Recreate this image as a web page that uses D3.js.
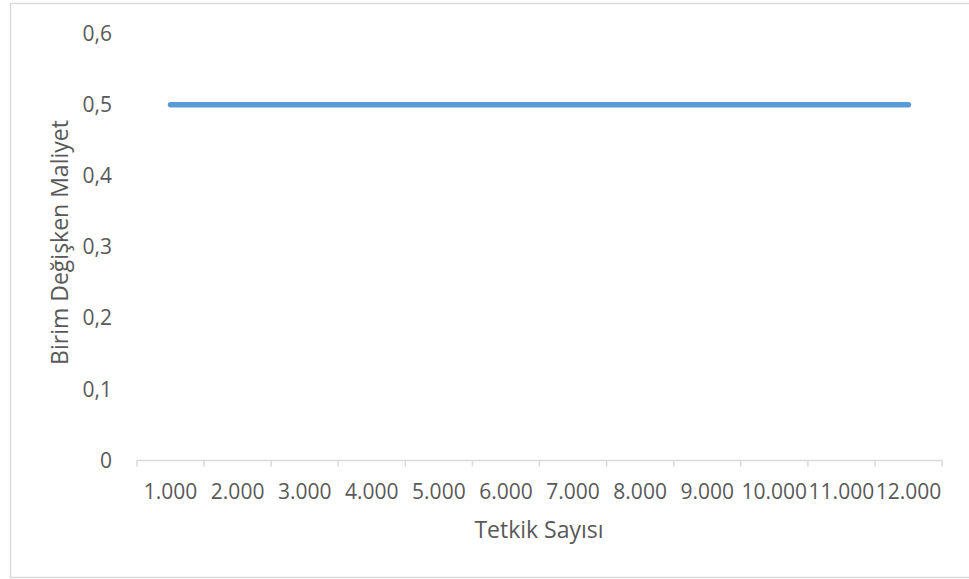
<!DOCTYPE html>
<html>
<head>
<meta charset="utf-8">
<script src="https://cdn.jsdelivr.net/npm/d3@7"></script>
<style>
  body { margin: 0; background: #fff; }
  text { font-family: "Open Sans", sans-serif; }
</style>
</head>
<body>
<div id="chart"></div>
<script>
// chart size
const width = 969;
const height = 579;
const margin = {left: 137, right: 27, top: 33.5, bottom: 118.5};

// data
const categories = ["1.000", "2.000", "3.000", "4.000", "5.000", "6.000",
                    "7.000", "8.000", "9.000", "10.000", "11.000", "12.000"];
const values = [0.5, 0.5, 0.5, 0.5, 0.5, 0.5, 0.5, 0.5, 0.5, 0.5, 0.5, 0.5];
const yTicks = [0, 0.1, 0.2, 0.3, 0.4, 0.5, 0.6];

const svg = d3.select("#chart")
  .append("svg")
  .attr("width", width)
  .attr("height", height);

// outer frame
svg.append("rect")
  .attr("x", 10.5).attr("y", 3.5)
  .attr("width", 960).attr("height", 574)
  .attr("fill", "#fff")
  .attr("stroke", "#d9d9d9")
  .attr("stroke-width", 1.5);

// scales
const xScale = d3.scaleBand()
  .domain(categories)
  .range([margin.left, width - margin.right]);

const yScale = d3.scaleLinear()
  .domain([0, 0.6])
  .range([height - margin.bottom, margin.top]);

// y axis labels only (no line)
svg.append("g")
  .attr("transform", `translate(${margin.left - 22},0)`)
  .call(d3.axisLeft(yScale).tickValues(yTicks).tickSize(0)
    .tickFormat(d => d === 0 ? "0" : d3.format(".1f")(d).replace(".", ",")))
  .call(g => g.select(".domain").remove())
  .call(g => g.selectAll("text")
    .attr("font-size", "21px")
    .attr("font-family", "Open Sans, sans-serif")
    .attr("fill", "#595959"));

// x axis: line with ticks between categories
const xAxisY = height - margin.bottom;
const xAxis = svg.append("g");
xAxis.append("line")
  .attr("x1", xScale.range()[0]).attr("x2", xScale.range()[1])
  .attr("y1", xAxisY).attr("y2", xAxisY)
  .attr("stroke", "#d9d9d9").attr("stroke-width", 1.5);

const boundaries = categories.map(c => xScale(c)).concat([xScale.range()[1]]);
xAxis.selectAll(".tick")
  .data(boundaries)
  .enter()
  .append("line")
    .attr("x1", d => d).attr("x2", d => d)
    .attr("y1", xAxisY).attr("y2", xAxisY + 6)
    .attr("stroke", "#d9d9d9").attr("stroke-width", 1.5);

xAxis.selectAll(".lbl")
  .data(categories)
  .enter()
  .append("text")
    .attr("x", d => xScale(d) + xScale.bandwidth() / 2)
    .attr("y", xAxisY + 38.5)
    .attr("text-anchor", "middle")
    .attr("font-size", "21px")
    .attr("fill", "#595959")
    .text(d => d);

// the line
const line = d3.line()
  .x((d, i) => xScale(categories[i]) + xScale.bandwidth() / 2)
  .y(d => yScale(d));

svg.append("path")
  .datum(values)
  .attr("d", line)
  .attr("fill", "none")
  .attr("stroke", "#5b9bd5")
  .attr("stroke-width", 5.5)
  .attr("stroke-linecap", "round")
  .attr("stroke-linejoin", "round");

// axis titles
svg.append("text")
  .attr("x", 539)
  .attr("y", 537.5)
  .attr("text-anchor", "middle")
  .attr("font-size", "23px")
  .attr("fill", "#595959")
  .text("Tetkik Sayısı");

svg.append("text")
  .attr("transform", "translate(68,242.5) rotate(-90)")
  .attr("text-anchor", "middle")
  .attr("font-size", "23px")
  .attr("fill", "#595959")
  .text("Birim Değişken Maliyet");
</script>
</body>
</html>
